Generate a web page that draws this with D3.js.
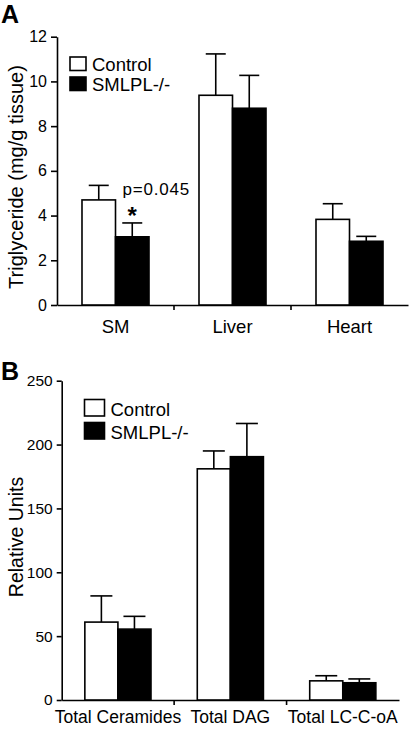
<!DOCTYPE html>
<html><head><meta charset="utf-8">
<script src="https://cdn.jsdelivr.net/npm/d3@7"></script>
<style>body{margin:0;background:#fff}svg{display:block}text{font-family:"Liberation Sans",Arial,sans-serif;fill:#000}</style>
</head><body>
<script>
// Panel A data
const categoriesA = ["SM", "Liver", "Heart"];
const controlA = [4.7, 9.38, 3.83];
const controlAErr = [0.65, 1.85, 0.7];
const koA = [3.05, 8.8, 2.85];
const koAErr = [0.62, 1.47, 0.22];
const ticksA = [0, 2, 4, 6, 8, 10, 12];
// Panel B data
const categoriesB = ["Total Ceramides", "Total DAG", "Total LC-C-oA"];
const controlB = [61, 181, 15];
const controlBErr = [20.5, 14, 4];
const koB = [55.5, 190.5, 13.5];
const koBErr = [10, 26, 3];
const ticksB = [0, 50, 100, 150, 200, 250];
const seriesNames = ["Control", "SMLPL-/-"];
const seriesFill = ["#fff", "#000"];

const svg = d3.select("body").append("svg").attr("width", 410).attr("height", 730);

function panel(o) {
  const g = svg.append("g");
  const x = d3.scaleBand().domain(o.cats).range([o.x0, o.x1]).padding(0);
  const xs = d3.scaleBand().domain([0, 1]).range([0, x.bandwidth()]).paddingInner(0).paddingOuter(o.pOuter);
  const y = d3.scaleLinear().domain([0, o.max]).range([o.yBottom, o.yTop]);

  // y axis
  const ya = g.append("g").attr("transform", `translate(${o.x0},0)`)
    .call(d3.axisLeft(y).tickValues(o.ticks).tickSize(o.tick).tickPadding(o.tickPad).tickSizeOuter(0));
  ya.select(".domain").attr("stroke", "#000").attr("stroke-width", 1.6);
  ya.selectAll(".tick line").attr("stroke", "#000").attr("stroke-width", 1.6);
  ya.selectAll(".tick text").style("font-size", o.tickFont + "px").style("font-family", "Liberation Sans, Arial, sans-serif").attr("fill", "#000");

  // x axis
  const xa = g.append("g").attr("transform", `translate(0,${o.yBottom})`)
    .call(d3.axisBottom(x).tickSize(0).tickPadding(o.catPad).tickSizeOuter(0));
  xa.select(".domain").attr("stroke", "#000").attr("stroke-width", 1.6);
  xa.selectAll(".tick text").style("font-size", o.catFont + "px").style("font-family", "Liberation Sans, Arial, sans-serif").attr("fill", "#000");
  // boundary ticks
  const bounds = o.cats.slice(1).map(c => x(c));
  g.selectAll(".bt").data(bounds).enter().append("line")
    .attr("x1", d => d).attr("x2", d => d).attr("y1", o.yBottom).attr("y2", o.yBottom + 5)
    .attr("stroke", "#000").attr("stroke-width", 1.6);

  const series = [o.ctrl, o.ko], errs = [o.ctrlErr, o.koErr];
  series.forEach((vals, s) => {
    vals.forEach((v, i) => {
      const bx = x(o.cats[i]) + xs(s), bw = xs.bandwidth();
      const cx = bx + bw / 2;
      // error bar
      g.append("line").attr("x1", cx).attr("x2", cx).attr("y1", y(v)).attr("y2", y(v + errs[s][i]))
        .attr("stroke", "#000").attr("stroke-width", 1.6);
      g.append("line").attr("x1", cx - o.cap).attr("x2", cx + o.cap).attr("y1", y(v + errs[s][i])).attr("y2", y(v + errs[s][i]))
        .attr("stroke", "#000").attr("stroke-width", 1.6);
      g.append("rect").attr("x", bx).attr("y", y(v)).attr("width", bw).attr("height", y(0) - y(v))
        .attr("fill", seriesFill[s]).attr("stroke", "#000").attr("stroke-width", 1.6);
    });
  });

  // y title
  g.append("text").attr("transform", `translate(${o.titleX},${o.titleY}) rotate(-90)`)
    .attr("text-anchor", "middle").style("font-size", o.titleFont + "px").text(o.title);

  // panel letter
  g.append("text").attr("x", 1).attr("y", o.letterY).style("font-size", "25px").style("font-weight", "bold").text(o.letter);

  // legend
  seriesNames.forEach((n, s) => {
    g.append("rect").attr("x", o.legX).attr("y", o.legY + s * o.legDy).attr("width", o.legW).attr("height", o.legH)
      .attr("fill", seriesFill[s]).attr("stroke", "#000").attr("stroke-width", 1.6);
    g.append("text").attr("x", o.legX + o.legW + 6).attr("y", o.legY + s * o.legDy + o.legH)
      .style("font-size", "18.5px").text(n);
  });
  return { x, xs, y, g };
}

const A = panel({
  cats: categoriesA, ctrl: controlA, ctrlErr: controlAErr, ko: koA, koErr: koAErr,
  x0: 57, x1: 408, pOuter: 0.746, max: 12, yBottom: 305, yTop: 36.7, ticks: ticksA,
  tick: 6, tickPad: 4, tickFont: 16, catPad: 15, catFont: 18.5, cap: 10,
  title: "Triglyceride (mg/g tissue)", titleX: 23, titleY: 177, titleFont: 20,
  letter: "A", letterY: 23, legX: 70, legY: 57, legDy: 20, legW: 16, legH: 13.5
});
// annotation
A.g.append("text").attr("x", 122.5).attr("y", 194.5).style("font-size", "17px").style("letter-spacing", "0.8px").text("p=0.045");
A.g.append("text").attr("x", A.x("SM") + A.xs(1) + A.xs.bandwidth() / 2).attr("y", 224)
  .attr("text-anchor", "middle").style("font-size", "24px").style("font-weight", "bold").text("*");

panel({
  cats: categoriesB, ctrl: controlB, ctrlErr: controlBErr, ko: koB, koErr: koBErr,
  x0: 61.7, x1: 399, pOuter: 0.70, max: 250, yBottom: 700, yTop: 380.7, ticks: ticksB,
  tick: 5, tickPad: 4, tickFont: 15.5, catPad: 11, catFont: 17.5, cap: 11,
  title: "Relative Units", titleX: 23, titleY: 537, titleFont: 19.5,
  letter: "B", letterY: 380, legX: 84.5, legY: 399.5, legDy: 23, legW: 20, legH: 16.5
});
</script>
</body></html>
